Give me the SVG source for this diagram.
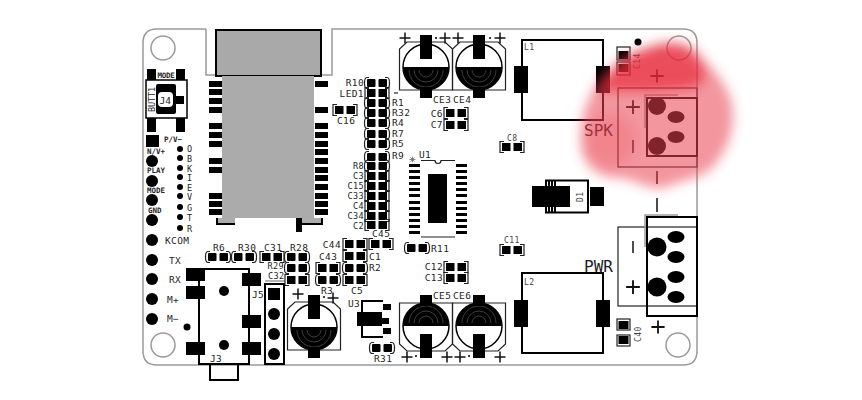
<svg xmlns="http://www.w3.org/2000/svg" xmlns:xlink="http://www.w3.org/1999/xlink" width="862" height="400" viewBox="0 0 862 400">
<style>
text{font-family:"DejaVu Sans Mono","Liberation Mono",monospace;font-size:9.5px;fill:#262626;letter-spacing:.4px}
.h{font-size:16px;letter-spacing:0;fill:#1c1c1c}
.s{font-size:8px;letter-spacing:.4px;fill:#444}
.t{font-size:7.500px;letter-spacing:0;font-weight:bold}
.l{font-size:8.500px}
.e{text-anchor:end}
.k{fill:#000}
.o{fill:none;stroke:#000;stroke-width:2}
.o1{fill:none;stroke:#222;stroke-width:1.2}
.g{fill:none;stroke:#9a9a9a;stroke-width:1.5}
.sym{fill:none;stroke:#111;stroke-width:1.5}
</style>
<defs>
<filter id="blur" x="-30%" y="-30%" width="160%" height="160%"><feGaussianBlur stdDeviation="6"/></filter>
<g id="padL"><rect class="k" x="-13" y="-3" width="13" height="6"/></g>
<g id="pR"><rect class="k" x="-10" y="-4" width="8.500" height="8" rx="1"/><rect class="k" x="1.500" y="-4" width="8.500" height="8" rx="1"/><path class="o1" d="M-8,-5.500H-10Q-12.500,-5.500 -12.500,0T-10,5.500H-8M8,-5.500H10Q12.500,-5.500 12.500,0T10,5.500H8"/></g>
<g id="pC"><rect class="k" x="-10" y="-4" width="8.500" height="8"/><rect class="k" x="1.500" y="-4" width="8.500" height="8"/><path class="o1" d="M-8,-5.500H-12V5.500H-8M8,-5.500H12V5.500H8"/></g>
<g id="cap">
<path class="o1" d="M-26.500,23V-18L-19,-25H19L26.500,-18V23Z"/>
<circle cx="0" cy="0" r="23" fill="#fff" stroke="#000" stroke-width="1.500"/>
<path class="k" d="M-23,0A23,23 0 0 0 23,0Z"/>
<path d="M-17,3A17,17 0 0 0 17,3M-12,3A12,12 0 0 0 12,3M-7,3A7,7 0 0 0 7,3" fill="none" stroke="#666" stroke-width=".6"/>
<rect class="k" x="-6" y="-32" width="12" height="24"/>
<rect class="k" x="-6" y="20" width="12" height="11"/>
</g>
<path id="plus" class="sym" d="M-5.500,0H5.500M0,-5.500V5.500"/>
<circle id="pin" r="6" class="k"/>
<circle id="dot" r="3" class="k"/>
</defs>
<rect width="862" height="400" fill="#fff"/>
<g id="board">
<path class="g" d="M206,29H157Q143,29 143,43V351Q143,365 157,365H683Q697,365 697,351V43Q697,29 683,29H332V75H322M216,75H206V29"/>
<circle class="g" stroke-width="1" cx="163" cy="48" r="12"/>
<circle class="g" stroke-width="1" cx="163" cy="345" r="12"/>
<circle class="g" stroke-width="1" cx="679" cy="48" r="12"/>
<circle class="g" stroke-width="1" cx="678" cy="345" r="12"/>
</g>
<g id="module">
<rect x="216" y="30" width="105" height="46" fill="#a9a9a9" stroke="#000" stroke-width="2"/>
<rect x="222" y="76" width="92" height="142" fill="#ababab"/>
<path d="M216,218H235V224H216ZM296,218H322V224H296Z" fill="#ababab"/>
<path class="o" d="M217,218V224H235M296,224H322V218"/>
<rect class="k" x="296" y="218" width="6" height="14"/>
<g id="pads-left">
<use xlink:href="#padL" x="222" y="84"/><use xlink:href="#padL" x="222" y="92"/><use xlink:href="#padL" x="222" y="101"/><use xlink:href="#padL" x="222" y="110"/><use xlink:href="#padL" x="222" y="126"/><use xlink:href="#padL" x="222" y="135"/><use xlink:href="#padL" x="222" y="144"/><use xlink:href="#padL" x="222" y="161"/><use xlink:href="#padL" x="222" y="170"/><use xlink:href="#padL" x="222" y="196"/><use xlink:href="#padL" x="222" y="204"/><use xlink:href="#padL" x="222" y="212"/>
</g>
<g id="pads-right">
<use xlink:href="#padL" x="328" y="84"/><use xlink:href="#padL" x="328" y="110"/><use xlink:href="#padL" x="328" y="126"/><use xlink:href="#padL" x="328" y="135"/><use xlink:href="#padL" x="328" y="144"/><use xlink:href="#padL" x="328" y="152"/><use xlink:href="#padL" x="328" y="161"/><use xlink:href="#padL" x="328" y="170"/><use xlink:href="#padL" x="328" y="178"/><use xlink:href="#padL" x="328" y="187"/><use xlink:href="#padL" x="328" y="196"/><use xlink:href="#padL" x="328" y="204"/><use xlink:href="#padL" x="328" y="212"/>
</g>
</g>
<g id="J4">
<rect x="146" y="80" width="41" height="38" fill="#fff" stroke="#000" stroke-width="1.500"/>
<rect class="k" x="147" y="69" width="9" height="11"/><rect class="k" x="176" y="69" width="9" height="11"/>
<rect class="k" x="147" y="118" width="9" height="14"/><rect class="k" x="176" y="118" width="9" height="14"/>
<rect class="k" x="156" y="84" width="20" height="30" rx="2"/>
<rect class="k" x="176" y="96" width="8" height="8"/>
<rect x="158" y="92" width="15" height="15" rx="4" fill="#fff"/>
<text x="159.500" y="103.500" style="font-size:9.500px;letter-spacing:0">J4</text>
<text x="157.500" y="77.500" style="font-size:7.500px;font-weight:bold;letter-spacing:-.3px">MODE</text>
<text transform="translate(154.500,112) rotate(-90)" style="font-size:8.500px;letter-spacing:-.1px">BUTT1</text>
</g>
<g id="header-left">
<rect class="k" x="146" y="135" width="13" height="12"/>
<use xlink:href="#pin" x="152" y="161"/><use xlink:href="#pin" x="152" y="181"/><use xlink:href="#pin" x="152" y="200"/><use xlink:href="#pin" x="152" y="220"/><use xlink:href="#pin" x="152" y="240"/><use xlink:href="#pin" x="152" y="260"/><use xlink:href="#pin" x="152" y="279"/><use xlink:href="#pin" x="152" y="299"/><use xlink:href="#pin" x="152" y="319"/>
<text x="164" y="142" class="t">P/V−</text>
<text x="147" y="154" class="t">N/V+</text>
<text x="147" y="173" class="t">PLAY</text>
<text x="147" y="193" class="t">MODE</text>
<text x="148" y="213" class="t">GND</text>
<text x="165" y="243.500">KCOM</text>
<text x="169" y="264">TX</text>
<text x="169" y="283">RX</text>
<text x="167" y="303">M+</text>
<text x="167" y="322">M−</text>
<circle cx="187" cy="327" r="3.500" class="k"/>
</g>
<g id="header-dots">
<use xlink:href="#dot" x="180" y="149"/><use xlink:href="#dot" x="180" y="158"/><use xlink:href="#dot" x="180" y="168"/><use xlink:href="#dot" x="180" y="177"/><use xlink:href="#dot" x="180" y="187"/><use xlink:href="#dot" x="180" y="196"/><use xlink:href="#dot" x="180" y="207"/><use xlink:href="#dot" x="180" y="217"/><use xlink:href="#dot" x="180" y="228"/>
<text x="187" y="152" class="l">O</text><text x="187" y="162" class="l">B</text><text x="187" y="171.500" class="l">K</text><text x="187" y="181" class="l">I</text><text x="187" y="190.500" class="l">E</text><text x="187" y="200" class="l">V</text><text x="187" y="210.500" class="l">G</text><text x="187" y="220.500" class="l">T</text><text x="187" y="231.500" class="l">R</text>
</g>
<g id="J3">
<rect class="o" x="199" y="269" width="50" height="95" fill="none"/>
<rect class="o" x="210" y="364" width="28" height="16"/>
<rect class="k" x="186" y="268" width="19" height="13"/><rect class="k" x="186" y="286" width="19" height="13"/><rect class="k" x="186" y="342" width="19" height="13"/>
<rect class="k" x="242" y="273" width="19" height="13"/><rect class="k" x="242" y="315" width="19" height="13"/><rect class="k" x="242" y="342" width="19" height="13"/>
<circle class="k" cx="224" cy="291" r="5"/><circle class="k" cx="224" cy="345" r="5"/>
<text x="210" y="362">J3</text>
<text x="252" y="298">J5</text>
</g>
<g id="J5">
<path class="g" d="M265,281H285" stroke-width="2"/>
<rect class="o" x="265" y="284" width="19" height="80" stroke-width="1.500"/>
<rect class="k" x="268" y="288" width="12" height="12"/>
<use xlink:href="#pin" x="274" y="314"/><use xlink:href="#pin" x="274" y="334"/><use xlink:href="#pin" x="274" y="354"/>
</g>
<g id="passives-lower-left">
<use xlink:href="#pR" x="218" y="257"/><use xlink:href="#pR" x="244" y="257"/><use xlink:href="#pC" x="272" y="257"/><use xlink:href="#pR" x="297" y="257"/><use xlink:href="#pR" x="297" y="268"/><use xlink:href="#pC" x="297" y="280"/><use xlink:href="#pC" x="328" y="268"/><use xlink:href="#pR" x="328" y="280"/>
<use xlink:href="#pC" x="355" y="244"/><use xlink:href="#pC" x="355" y="256"/><use xlink:href="#pR" x="355" y="268"/><use xlink:href="#pC" x="355" y="280"/><use xlink:href="#pC" x="381" y="244"/>
<use xlink:href="#pR" x="382" y="348"/><use xlink:href="#pR" x="417" y="248"/>
<text x="213" y="251">R6</text><text x="238" y="251">R30</text><text x="264" y="251">C31</text><text x="290" y="251">R28</text>
<text x="284" y="269" class="e l">R29</text><text x="268" y="279" class="l">C32</text>
<text x="319" y="260">C43</text><text x="321" y="294">R3</text>
<text x="341" y="248" class="e">C44</text><text x="369" y="260">C1</text><text x="369" y="271">R2</text><text x="351" y="294">C5</text><text x="372" y="237">C45</text>
<text x="374" y="362">R31</text><text x="431" y="252">R11</text>
<text x="348" y="307">U3</text>
</g>
<g id="CE-group">
<use xlink:href="#cap" x="426" y="67"/><use xlink:href="#cap" x="479" y="67"/><use xlink:href="#cap" x="314" y="327"/>
<use xlink:href="#cap" transform="translate(426,326) rotate(180)"/><use xlink:href="#cap" transform="translate(479,326) rotate(180)"/>
<use xlink:href="#plus" x="405" y="38"/><use xlink:href="#plus" x="445" y="38"/><use xlink:href="#plus" x="458" y="38"/><use xlink:href="#plus" x="500" y="38"/>
<use xlink:href="#plus" x="298" y="294"/><use xlink:href="#plus" x="333" y="298"/>
<use xlink:href="#plus" x="407" y="357"/><use xlink:href="#plus" x="447" y="357"/><use xlink:href="#plus" x="460" y="357"/>
<use xlink:href="#plus" x="500" y="357"/>
<circle cx="436" cy="38" r="1" class="k"/><circle cx="490" cy="38" r="1" class="k"/><circle cx="324" cy="297" r="1" class="k"/><circle cx="416" cy="356" r="1" class="k"/><circle cx="469" cy="356" r="1" class="k"/>
<text x="433" y="103">CE3</text><text x="453" y="103">CE4</text><text x="433" y="299">CE5</text><text x="453" y="299">CE6</text>
</g>
<g id="column">
<use xlink:href="#pR" x="377" y="83"/><use xlink:href="#pC" x="377" y="93"/><use xlink:href="#pR" x="377" y="103"/><use xlink:href="#pR" x="377" y="113"/><use xlink:href="#pR" x="377" y="123"/><use xlink:href="#pR" x="377" y="134"/><use xlink:href="#pR" x="377" y="144"/><use xlink:href="#pR" x="377" y="157"/><use xlink:href="#pR" x="377" y="166"/><use xlink:href="#pC" x="377" y="176"/><use xlink:href="#pC" x="377" y="186"/><use xlink:href="#pC" x="377" y="196"/><use xlink:href="#pC" x="377" y="206"/><use xlink:href="#pC" x="377" y="216"/><use xlink:href="#pC" x="377" y="225"/>
<text x="364" y="86" class="e">R10</text><text x="364" y="97" class="e">LED1</text>
<text x="392" y="106">R1</text><text x="392" y="116">R32</text><text x="392" y="126">R4</text><text x="392" y="137">R7</text><text x="392" y="147">R5</text><text x="392" y="159">R9</text>
<text x="364" y="169" class="e l">R8</text><text x="364" y="179" class="e l">C3</text><text x="364" y="189" class="e l">C15</text><text x="364" y="199" class="e l">C33</text><text x="364" y="209" class="e l">C4</text><text x="364" y="219" class="e l">C34</text><text x="364" y="229" class="e l">C2</text>
<path d="M394,93H398" class="o1"/>
</g>
<g id="passives-mid">
<use xlink:href="#pC" x="345" y="110"/><use xlink:href="#pC" x="456" y="113"/><use xlink:href="#pC" x="456" y="125"/><use xlink:href="#pC" x="512" y="147"/><use xlink:href="#pC" x="512" y="250"/><use xlink:href="#pC" x="456" y="267"/><use xlink:href="#pC" x="456" y="278"/>
<text x="337" y="124">C16</text><text x="443" y="117" class="e">C6</text><text x="443" y="128" class="e">C7</text>
<text x="507" y="141" class="s">C8</text><text x="504" y="243" class="s">C11</text>
<text x="443" y="270" class="e">C12</text><text x="443" y="281" class="e">C13</text>
</g>
<g id="U1">
<g class="k">
<rect x="409" y="164" width="11" height="3"/><rect x="409" y="170" width="11" height="3"/><rect x="409" y="176" width="11" height="3"/><rect x="409" y="182" width="11" height="3"/><rect x="409" y="188" width="11" height="3"/><rect x="409" y="194" width="11" height="3"/><rect x="409" y="201" width="11" height="3"/><rect x="409" y="207" width="11" height="3"/><rect x="409" y="213" width="11" height="3"/><rect x="409" y="219" width="11" height="3"/><rect x="409" y="225" width="11" height="3"/><rect x="409" y="231" width="11" height="3"/>
<rect x="456" y="164" width="11" height="3"/><rect x="456" y="170" width="11" height="3"/><rect x="456" y="176" width="11" height="3"/><rect x="456" y="182" width="11" height="3"/><rect x="456" y="188" width="11" height="3"/><rect x="456" y="194" width="11" height="3"/><rect x="456" y="201" width="11" height="3"/><rect x="456" y="207" width="11" height="3"/><rect x="456" y="213" width="11" height="3"/><rect x="456" y="219" width="11" height="3"/><rect x="456" y="225" width="11" height="3"/><rect x="456" y="231" width="11" height="3"/>
<rect x="428" y="174" width="19" height="49"/>
</g>
<path class="o1" d="M421,160.500H435A3,3 0 0 0 441,160.500H455M421,237H455"/>
<path d="M412.500,156.500V162M409.500,159.500H415.500M410.500,157.500L414.500,161.500M414.500,157.500L410.500,161.500" stroke="#666" stroke-width=".8"/>
<text x="419" y="158">U1</text>
</g>
<g id="U3">
<path class="o" d="M383,301H362V337H383" stroke-width="1.500"/>
<rect class="k" x="357" y="312" width="25" height="14"/>
<rect class="k" x="383" y="304" width="8" height="6"/><rect class="k" x="382" y="318" width="7" height="6"/><rect class="k" x="383" y="328" width="8" height="6"/>
</g>
<g id="L1">
<rect class="o" x="522" y="40" width="81" height="80"/>
<rect class="k" x="514" y="66" width="14" height="27"/><rect class="k" x="596" y="66" width="14" height="27"/>
<text x="524" y="50" class="s">L1</text>
</g>
<g id="L2">
<rect class="o" x="522" y="273" width="81" height="80"/>
<rect class="k" x="514" y="300" width="14" height="27"/><rect class="k" x="596" y="300" width="14" height="27"/>
<text x="524" y="285" class="s">L2</text>
</g>
<g id="D1">
<path class="o" d="M545,180.500H588V212.500H545" stroke-width="1.300"/>
<rect class="k" x="532" y="186" width="38" height="21"/>
<rect class="k" x="590" y="187" width="14" height="19"/>
<path d="M546,180V186M549,180V186M552,180V186M555,180V186M546,207V213M549,207V213M552,207V213M555,207V213" stroke="#000" stroke-width="2"/>
<text transform="translate(583,202) rotate(-90)" class="s">D1</text>
</g>
<g id="C14">
<rect x="617" y="47" width="13" height="13" class="o1" stroke="#777"/><rect x="618.500" y="51" width="10" height="8" class="k"/>
<rect x="617" y="62" width="13" height="13" class="o1" stroke="#777"/><rect x="618.500" y="64" width="10" height="8" class="k"/>
<text transform="translate(640,69) rotate(-90)" class="s">C14</text>
<circle cx="638" cy="42" r="3.500" class="k"/>
</g>
<g id="SPK">
<rect class="o1" x="618" y="88" width="79" height="79"/>
<path class="g" d="M645,128V95H678"/>
<rect class="o" x="647" y="98" width="50" height="58"/>
<circle cx="657" cy="106" r="9" class="k"/><circle cx="657" cy="146" r="9" class="k"/>
<ellipse cx="676" cy="117" rx="8.500" ry="6" class="k"/><ellipse cx="676" cy="137" rx="8.500" ry="6" class="k"/>
<use xlink:href="#plus" transform="translate(633,107) scale(1.250)"/>
<path class="sym" d="M633,140V153"/>
<use xlink:href="#plus" transform="translate(657,76) scale(1.200)"/>
<path class="sym" d="M657,171V184M657,198V212"/>
<text x="584" y="136" class="h">SPK</text>
</g>
<g id="PWR">
<rect class="o1" x="618" y="227" width="79" height="79"/>
<path class="g" d="M645,247V215H678" stroke-width="2"/>
<rect class="o" x="647" y="217" width="50" height="99"/>
<circle cx="657" cy="247" r="9.500" class="k"/><circle cx="657" cy="287" r="9.500" class="k"/>
<ellipse cx="676" cy="237" rx="8.500" ry="6" class="k"/><ellipse cx="676" cy="257" rx="8.500" ry="6" class="k"/><ellipse cx="676" cy="277" rx="8.500" ry="6" class="k"/><ellipse cx="676" cy="297" rx="8.500" ry="6" class="k"/>
<path class="sym" d="M633,241V253"/>
<use xlink:href="#plus" transform="translate(633,287) scale(1.250)"/>
<use xlink:href="#plus" transform="translate(658,327) scale(1.200)"/>
<text x="584" y="272" class="h">PWR</text>
</g>
<g id="C40">
<rect x="617" y="319" width="13" height="11" class="o1" stroke="#777"/><rect x="618.500" y="321" width="10" height="8" class="k"/>
<rect x="617" y="335" width="13" height="11" class="o1" stroke="#777"/><rect x="618.500" y="336" width="10" height="8" class="k"/>
<text transform="translate(641,342) rotate(-90)" class="s">C40</text>
</g>
<g id="highlight" filter="url(#blur)">
<path d="M596,86C606,70 625,52 650,46C670,38 692,40 704,60C716,72 732,90 733,112C734,135 726,152 712,168C698,180 680,180 664,188C646,190 634,178 618,178C598,178 582,165 581,145C579,125 584,104 596,86Z" fill="#e9404e" fill-opacity=".55"/>
<path d="M598,90C612,68 630,54 652,48C672,42 690,46 700,62C706,72 708,82 694,88C660,92 620,92 598,90Z" fill="#e81a2e" fill-opacity=".6"/>
<ellipse cx="610" cy="140" rx="26" ry="26" fill="#e9303f" fill-opacity=".18"/>
</g>
</svg>
